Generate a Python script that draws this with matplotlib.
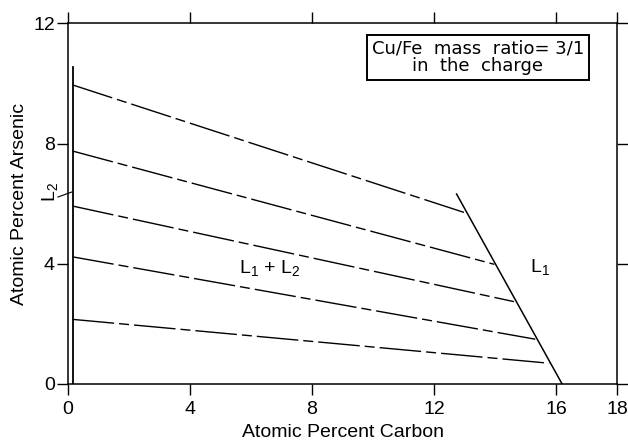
import numpy as np
import matplotlib
matplotlib.use("Agg")
import matplotlib.pyplot as plt

plt.rcParams['font.family'] = ['Liberation Sans', 'DejaVu Sans']
plt.rcParams['mathtext.fontset'] = 'custom'
plt.rcParams['mathtext.rm'] = 'Liberation Sans'
plt.rcParams['mathtext.it'] = 'Liberation Sans'
plt.rcParams['mathtext.default'] = 'regular'

# --- datos ---
# linea L2 (limite vertical)
l2_x = [0.15, 0.15]
l2_y = [0.0, 10.56]

# linea L1 (limite derecho)
l1_x = [12.74, 16.2]
l1_y = [6.32, 0.0]

# lineas de reparto (tie lines)
tie_x0 = [0.15, 0.15, 0.15, 0.15, 0.15]
tie_y0 = [9.95, 7.75, 5.92, 4.23, 2.15]
tie_x1 = [13.07, 13.98, 14.62, 15.32, 15.78]
tie_y1 = [5.68, 3.98, 2.74, 1.49, 0.69]

xticks = [0, 4, 8, 12, 16, 18]
yticks = [0, 4, 8, 12]

fig = plt.figure(figsize=(6.28, 4.43), dpi=100)
ax = fig.add_axes([0.1083, 0.1332, 0.8742, 0.8142])

ax.plot(l2_x, l2_y, color='black', lw=1.3)
ax.plot(l1_x, l1_y, color='black', lw=1.1)

for x0, y0, x1, y1 in zip(tie_x0, tie_y0, tie_x1, tie_y1):
    ax.plot([x0, x1], [y0, y1], color='black', lw=1.0,
            dashes=(30, 3.6, 7.2, 3.6))

# textos
ax.text(6.62, 3.86, 'L$_1$ + L$_2$', fontsize=14, ha='center', va='center')
ax.text(15.48, 3.9, 'L$_1$', fontsize=14, ha='center', va='center')
ax.text(-0.6, 6.4, 'L$_2$', fontsize=14, ha='center', va='center',
        rotation=90, clip_on=False)
ax.plot([-0.33, 0.13], [6.22, 6.39], color='black', lw=0.8, clip_on=False)

ax.text(13.44, 10.87, 'Cu/Fe  mass  ratio= 3/1\nin  the  charge',
        family='DejaVu Sans', fontsize=13, ha='center', va='center',
        linespacing=1.0,
        bbox=dict(boxstyle='square,pad=0.25', fc='white', ec='black', lw=1.4))

# --- ejes ---
ax.set_xlim(0, 18)
ax.set_ylim(0, 12)
ax.set_xticks(xticks)
ax.set_yticks(yticks)
ax.tick_params(direction='out', length=8, width=1, labelsize=14,
               top=True, right=True, labeltop=False, labelright=False)
ax.tick_params(axis='y', pad=1.5)
ax.tick_params(axis='x', pad=4)
for s in ax.spines.values():
    s.set_linewidth(1.1)

ax.set_xlabel('Atomic Percent Carbon', fontsize=14)
ax.set_ylabel('Atomic Percent Arsenic', fontsize=14)
ax.xaxis.set_label_coords(0.5, -0.111)
ax.yaxis.set_label_coords(-0.073, 0.5)

fig.savefig('out.png', dpi=100)
